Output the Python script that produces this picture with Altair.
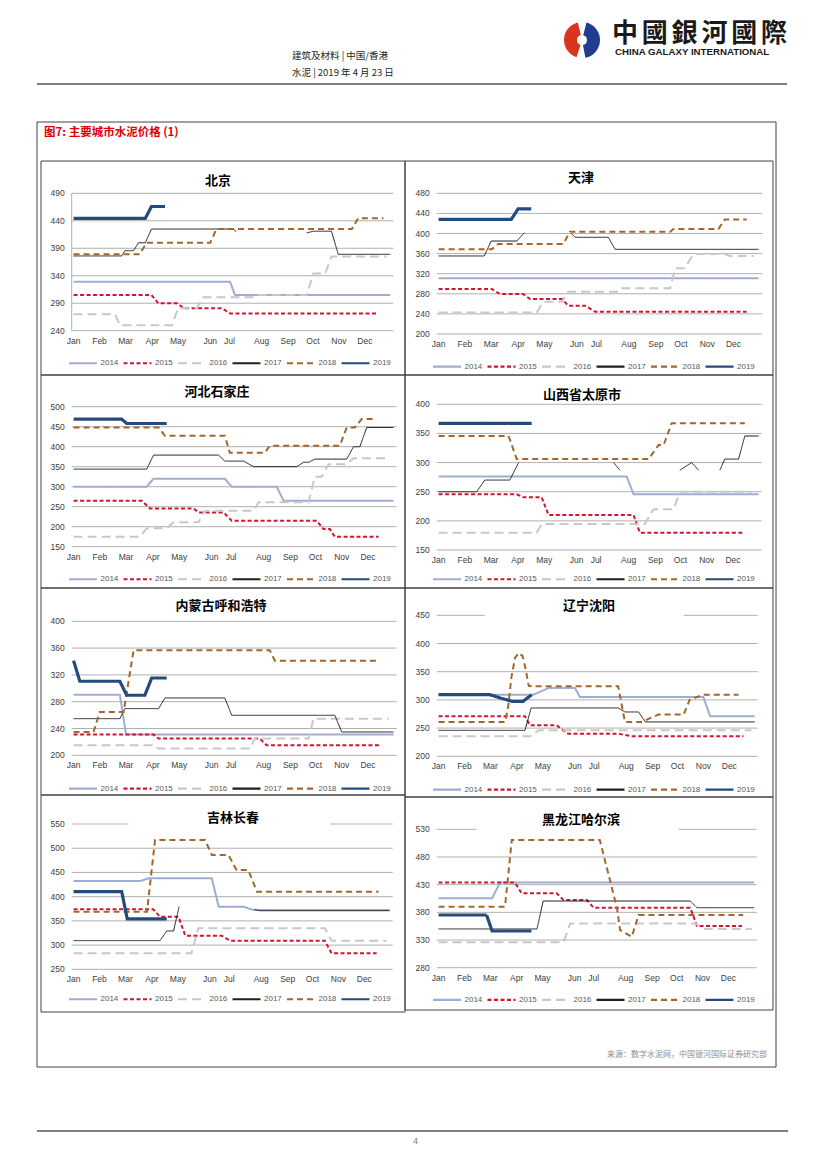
import altair as alt
import pandas as pd

FONT = "Liberation Sans"
CJK = "Noto Sans CJK SC"
O = 8  # page margin

YEARS = ["2014", "2015", "2016", "2017", "2018", "2019"]
COLORS = ["#9FADD4", "#D2152F", "#C8C8C8", "#1E1E1E", "#A4662C", "#244A7E"]
DASHES = [[1, 0], [4, 2.5], [9, 5], [1, 0], [6, 4], [1, 0]]
WIDTHS = [2, 2, 2, 1, 2, 3.2]

MONTHS = ["Jan", "Feb", "Mar", "Apr", "May", "Jun", "Jul", "Aug", "Sep", "Oct", "Nov", "Dec"]
MONTH_WEEK = [0.3, 4.5, 8.7, 13.0, 17.2, 22.4, 25.5, 30.7, 35.0, 39.0, 43.2, 47.4]

# (week, price) vertices per year; None = gap in the series
BEIJING = {
    "2014": [(0.3, 329), (25.6, 329), (26.4, 305), (51.5, 305)],
    "2015": [(0.3, 305), (12.9, 305), (14.0, 290), (17.0, 290), (18.1, 281), (24.3, 281), (25.6, 271.5), (49.3, 271.5)],
    "2016": [(0.3, 270), (7.0, 270), (7.8, 250), (16.2, 250), (17.2, 281), (20.2, 281), (21.3, 301), (29.1, 301), (29.6, 305), (38.0, 305), (39.1, 344), (41.0, 344), (42.0, 375), (50.9, 375)],
    "2017": [(0.3, 376), (8.1, 376), (8.6, 385.6), (10.0, 385.6), (10.8, 400), (11.9, 400), (12.9, 425), (26.1, 425), (26.6, 420), None, (38.0, 418), (39.1, 421), (42.0, 421), (43.1, 379), (51.5, 379)],
    "2018": [(0.3, 379), (11.0, 379), (12.1, 400), (22.4, 400), (23.4, 425), (45.3, 425), (46.3, 444.5), (50.4, 444.5)],
    "2019": [(0.3, 444.5), (11.9, 444.5), (12.9, 466), (15.1, 466)],
}
TIANJIN = {
    "2014": [(0.3, 311), (51.4, 311)],
    "2015": [(0.3, 289.6), (8.8, 289.6), (10.1, 279.6), (13.8, 279.6), (14.9, 269.7), (20.0, 269.7), (21.0, 256.4), (23.7, 256.4), (25.3, 244.5), (49.5, 244.5)],
    "2016": [(0.3, 243), (16.0, 243), (17.0, 264.4), (20.0, 264.4), (21.0, 284), (29.0, 284), (29.5, 291), (37.3, 291), (38.1, 330.7), (39.6, 330.7), (41.0, 359), (46.0, 359), (46.8, 355), (50.6, 355)],
    "2017": [(0.3, 355.3), (7.6, 355.3), (8.7, 385), (12.8, 385), (14.0, 401.7), None, (21.5, 400), (22.1, 392.4), (27.4, 392.4), (28.5, 368.5), (51.4, 368.5)],
    "2018": [(0.3, 368.5), (8.8, 368.5), (9.8, 379), (20.2, 379), (21.3, 403.7), (37.3, 403.7), (37.8, 409), (45.0, 409), (46.0, 428), (49.5, 428)],
    "2019": [(0.3, 428), (11.9, 428), (13.0, 449), (15.1, 449)],
}
HEBEI = {
    "2014": [(0.3, 300), (12.0, 300), (13.1, 320), (24.5, 320), (25.6, 300), (32.8, 300), (33.9, 265), (51.5, 265)],
    "2015": [(0.3, 265), (11.2, 265), (12.5, 245.8), (19.5, 245.8), (20.3, 235.8), (24.3, 235.8), (25.6, 215), (39.2, 215), (40.3, 194), (41.3, 194), (42.1, 175), (49.1, 175)],
    "2016": [(0.3, 175), (10.9, 175), (12.0, 196), (15.2, 196), (16.3, 211), (20.3, 211), (21.3, 240), (29.1, 240), (29.9, 261), (37.9, 261), (38.9, 325), (40.0, 325), (41.1, 356), (44.0, 356), (45.1, 371), (50.7, 371)],
    "2017": [(0.3, 344), (12.0, 344), (13.1, 379), (23.5, 379), (24.5, 364), (27.5, 364), (29.1, 350), (36.0, 350), (37.1, 361), (37.9, 361), (38.9, 369), (44.0, 369), (45.1, 400), (46.1, 400), (47.2, 448), (51.5, 448)],
    "2018": [(0.3, 448), (13.9, 448), (14.9, 427.5), (24.5, 427.5), (25.3, 385), (30.9, 385), (31.7, 402.5), (42.9, 402.5), (44.0, 448), (45.3, 448), (46.4, 469), (48.3, 469)],
    "2019": [(0.3, 469), (8.0, 469), (8.8, 458), (15.2, 458)],
}
SHANXI = {
    "2014": [(0.3, 276), (30.4, 276), (31.5, 245.5), (51.5, 245.5)],
    "2015": [(0.3, 245.5), (12.8, 245.5), (13.9, 240.4), (16.8, 240.4), (17.9, 210), (31.5, 210), (32.5, 179.7), (49.3, 179.7)],
    "2016": [(0.3, 179.7), (16.0, 179.7), (16.8, 194.6), (33.3, 194.6), (34.7, 220), (37.9, 220), (38.9, 250), (50.4, 250)],
    "2017": [(0.3, 250), (6.4, 250), (7.7, 270), (11.7, 270), (13.1, 300), None, (28.3, 300), (29.3, 287), None, (38.9, 287), (40.8, 300), (41.9, 287), None, (45.3, 287), (46.1, 306), (48.3, 306), (49.3, 345.6), (51.5, 345.6)],
    "2018": [(0.3, 345.6), (11.5, 345.6), (12.8, 306), (33.9, 306), (35.5, 330), (36.3, 330), (37.6, 367.4), (49.3, 367.4)],
    "2019": [(0.3, 367.4), (15.2, 367.4)],
}
HOHHOT = {
    "2014": [(0.3, 290.5), (7.7, 290.5), (8.7, 231), (51.5, 231)],
    "2015": [(0.3, 231), (13.1, 231), (13.9, 225), (30.1, 225), (31.2, 215), (49.3, 215)],
    "2016": [(0.3, 215), (13.1, 215), (13.9, 210), (28.5, 210), (29.3, 225), (37.9, 225), (38.7, 254.7), (50.7, 254.7)],
    "2017": [(0.3, 254.7), (7.7, 254.7), (8.5, 269.7), (13.9, 269.7), (14.9, 285.6), (24.5, 285.6), (25.6, 259.7), (42.1, 259.7), (43.2, 234.8), (51.5, 234.8)],
    "2018": [(0.3, 234.8), (3.5, 234.8), (4.5, 264.7), (8.3, 264.7), (9.9, 356.7), (31.7, 356.7), (32.5, 341.3), (49.3, 341.3)],
    "2019": [(0.3, 341.3), (1.3, 310.5), (7.7, 310.5), (8.8, 289.6), (11.7, 289.6), (12.8, 315.4), (15.2, 315.4)],
}
SHENYANG = {
    "2014": [(0.3, 309.3), (15.7, 309.3), (18.1, 321), (22.4, 321), (23.2, 305), (43.2, 305), (44.3, 271), (51.5, 271)],
    "2015": [(0.3, 271), (14.3, 271), (15.1, 255), (19.4, 255), (21.3, 240), (29.4, 240), (31.6, 235.5), (49.7, 235.5)],
    "2016": [(0.3, 235.5), (15.1, 235.5), (16.5, 246), (51.0, 246)],
    "2017": [(0.3, 246), (14.3, 246), (15.3, 285.7), (29.4, 285.7), (30.5, 278.6), (32.7, 278.6), (33.8, 260.9), (51.5, 260.9)],
    "2018": [(0.3, 260.9), (11.1, 260.9), (11.6, 290), (12.1, 340), (12.7, 375), (13.3, 383.2), (13.9, 378), (14.4, 355), (14.9, 325), (15.4, 324), (29.4, 324), (30.5, 260.9), (33.2, 260.9), (35.9, 273.9), (40.0, 273.9), (41.0, 300.5), (43.2, 309.3), (48.9, 309.3)],
    "2019": [(0.3, 309.3), (8.6, 309.3), (10.3, 303.4), (12.2, 297.5), (14.0, 297.5), (15.4, 309.3)],
}
CHANGCHUN = {
    "2014": [(0.3, 432.3), (11.1, 432.3), (12.5, 437.9), (22.7, 437.9), (23.8, 379.4), (27.8, 379.4), (29.4, 372.5), (51.5, 372.5)],
    "2015": [(0.3, 373.9), (13.2, 373.9), (14.3, 358.7), (17.3, 358.7), (18.4, 319.5), (24.3, 319.5), (25.7, 309.2), (41.0, 309.2), (42.1, 283), (49.4, 283)],
    "2016": [(0.3, 283), (19.4, 283), (20.5, 334.7), (41.0, 334.7), (42.1, 309.2), (51.0, 309.2)],
    "2017": [(0.3, 309.2), (14.3, 309.2), (15.4, 329.2), (16.5, 329.2), (17.4, 379.4), None, (29.6, 374), (30.4, 371), (51.5, 371)],
    "2018": [(0.3, 369), (12.2, 369), (13.5, 517), (21.6, 517), (22.7, 486), (25.4, 486), (26.7, 455), (28.6, 455), (30.0, 410.3), (49.7, 410.3)],
    "2019": [(0.3, 410.3), (8.1, 410.3), (9.0, 354), (15.4, 354)],
}
HARBIN = {
    "2014": [(0.3, 405.3), (9.0, 405.3), (10.3, 434), (51.6, 434)],
    "2015": [(0.3, 434), (12.7, 434), (13.8, 414.3), (19.5, 414.3), (20.6, 402.3), (24.4, 402.3), (25.5, 388.4), (41.2, 388.4), (42.3, 355.3), (49.6, 355.3)],
    "2016": [(0.3, 325.8), (20.6, 325.8), (21.7, 360), (42.0, 360), (43.6, 350), (51.2, 350)],
    "2017": [(0.3, 350), (16.3, 350), (17.3, 400.5), (41.2, 400.5), (42.3, 388.4), (51.6, 388.4)],
    "2018": [(0.3, 390.2), (11.1, 390.2), (12.2, 510.7), (26.5, 510.7), (27.6, 462.5), (29.3, 387.2), (29.8, 348), (31.7, 336), (32.8, 375.2), (49.8, 375.2)],
    "2019": [(0.3, 375.2), (8.1, 375.2), (9.0, 346.3), (15.4, 346.3)],
}

# layout (page pixels)
PANELS = [
    dict(title="北京", data=BEIJING, ticks=[240, 290, 340, 390, 440, 490], box=(41, 161, 405, 375),
         plot=(71.7, 393.3, 193.3, 330.7), title_at=(218, 181), legend_cy=361.7, gap=None, axis_line=True),
    dict(title="天津", data=TIANJIN, ticks=[200, 240, 280, 320, 360, 400, 440, 480], box=(405, 161, 773, 375),
         plot=(436.7, 762.3, 193.3, 334.0), title_at=(581, 178), legend_cy=365, gap=None, axis_line=False),
    dict(title="河北石家庄", data=HEBEI, ticks=[150, 200, 250, 300, 350, 400, 450, 500], box=(41, 375, 405, 588),
         plot=(71.7, 396.7, 406.7, 546.7), title_at=(217, 392), legend_cy=577.7, gap=None, axis_line=False),
    dict(title="山西省太原市", data=SHANXI, ticks=[150, 200, 250, 300, 350, 400], box=(405, 375, 773, 588),
         plot=(436.7, 761.7, 404.3, 550.0), title_at=(582, 395), legend_cy=577.7, gap=None, axis_line=False),
    dict(title="内蒙古呼和浩特", data=HOHHOT, ticks=[200, 240, 280, 320, 360, 400], box=(41, 588, 405, 795),
         plot=(71.7, 396.7, 621.3, 755.3), title_at=(221, 606), legend_cy=787, gap=None, axis_line=False),
    dict(title="辽宁沈阳", data=SHENYANG, ticks=[200, 250, 300, 350, 400, 450], box=(405, 588, 773, 797),
         plot=(436.7, 757.7, 615.3, 756.3), title_at=(589, 606), legend_cy=788, gap=(7.8, 40.0), axis_line=False),
    dict(title="吉林长春", data=CHANGCHUN, ticks=[250, 300, 350, 400, 450, 500, 550], box=(41, 795, 405, 1012),
         plot=(71.7, 392.7, 824.0, 969.3), title_at=(233, 818), legend_cy=997.7, gap=(9.2, 41.9), axis_line=False),
    dict(title="黑龙江哈尔滨", data=HARBIN, ticks=[280, 330, 380, 430, 480, 530], box=(405, 797, 773, 1010),
         plot=(436.7, 756.7, 829.3, 967.7), title_at=(581, 820), legend_cy=998.3, gap=(6.5, 39.3), axis_line=False),
]

WIDTH_OF = dict(zip(YEARS, WIDTHS))


def one():
    return alt.Data(values=[{"k": 0}])


def txt(s, x, y, size, color="#000000", bold=False, font=FONT, align="left"):
    return alt.Chart(one()).mark_text(
        text=s, fontSize=size, color=color, fontWeight=("bold" if bold else "normal"),
        font=font, align=align, baseline="middle"
    ).encode(x=alt.value(x - O), y=alt.value(y - O))


def hrule(x0, x1, y, color, w):
    return alt.Chart(one()).mark_rule(color=color, strokeWidth=w).encode(
        x=alt.value(x0 - O), x2=alt.value(x1 - O), y=alt.value(y - O))


def frame(x0, y0, x1, y1, color, w):
    return alt.Chart(one()).mark_rect(fillOpacity=0, stroke=color, strokeWidth=w).encode(
        x=alt.value(x0 - O), x2=alt.value(x1 - O), y=alt.value(y0 - O), y2=alt.value(y1 - O))


def arc(cx, cy, r0, r1, t0, t1, color):
    return alt.Chart(one()).mark_arc(innerRadius=r0, outerRadius=r1, theta=t0, theta2=t1, color=color).encode(
        x=alt.value(cx - O), y=alt.value(cy - O))


def panel(p):
    lo, hi = p["ticks"][0], p["ticks"][-1]
    px0, px1, pyt, pyb = p["plot"]
    xs = alt.Scale(domain=[0, 52], range=[px0 - O, px1 - O], nice=False, zero=False)
    ys = alt.Scale(domain=[lo, hi], range=[pyb - O, pyt - O], nice=False, zero=False)

    g = []
    for t in p["ticks"]:
        if p["gap"] and t == hi:
            g.append({"v": t, "a": 0, "b": p["gap"][0]})
            g.append({"v": t, "a": p["gap"][1], "b": 52})
        else:
            g.append({"v": t, "a": 0, "b": 52})
    grid = alt.Chart(pd.DataFrame(g)).mark_rule(color="#B0B0B0", strokeWidth=1).encode(
        x=alt.X("a:Q", scale=xs, axis=None), x2="b:Q", y=alt.Y("v:Q", scale=ys, axis=None))
    layers = [grid]
    if p["axis_line"]:
        layers.append(alt.Chart(pd.DataFrame({"a": [0], "lo": [lo], "hi": [hi]})).mark_rule(
            color="#B0B0B0", strokeWidth=1).encode(
            x=alt.X("a:Q", scale=xs, axis=None), y=alt.Y("lo:Q", scale=ys, axis=None), y2="hi:Q"))

    ylab = alt.Chart(pd.DataFrame({"v": p["ticks"], "a": [0] * len(p["ticks"]),
                                   "t": [str(t) for t in p["ticks"]]})).mark_text(
        align="right", baseline="middle", dx=-7, fontSize=8.5, color="#404040", font=FONT).encode(
        x=alt.X("a:Q", scale=xs, axis=None), y=alt.Y("v:Q", scale=ys, axis=None), text="t:N")
    xlab = alt.Chart(pd.DataFrame({"m": MONTHS, "w": MONTH_WEEK, "v": [lo] * 12})).mark_text(
        align="center", baseline="middle", dy=10, fontSize=8.5, color="#404040", font=FONT).encode(
        x=alt.X("w:Q", scale=xs, axis=None), y=alt.Y("v:Q", scale=ys, axis=None), text="m:N")
    layers += [ylab, xlab]

    rows = []
    for yr in YEARS:
        seg = 0
        for pt in p["data"][yr]:
            if pt is None:
                seg += 1
                continue
            rows.append({"week": pt[0], "price": pt[1], "year": yr, "seg": f"{yr}-{seg}",
                         "w": WIDTH_OF[yr], "i": len(rows)})
    df = pd.DataFrame(rows)
    bx0, by0, bx1, by1 = p["box"]
    lines = alt.Chart(df).mark_line().encode(
        x=alt.X("week:Q", scale=xs, axis=None),
        y=alt.Y("price:Q", scale=ys, axis=None),
        color=alt.Color("year:N", scale=alt.Scale(domain=YEARS, range=COLORS),
                        legend=alt.Legend(orient="none", legendX=bx0 + 26.5 - O, legendY=p["legend_cy"] - 14 - O,
                                          direction="horizontal", columns=6, title=None, padding=0,
                                          labelFont=FONT, labelFontSize=8, labelColor="#595959",
                                          symbolSize=784, symbolType="stroke", labelOffset=2,
                                          columnPadding=0.5, symbolStrokeWidth=2.2)),
        strokeDash=alt.StrokeDash("year:N", scale=alt.Scale(domain=YEARS, range=DASHES)),
        strokeWidth=alt.StrokeWidth("w:Q", scale=None),
        detail="seg:N",
        order="i:Q",
    )
    layers.append(lines)
    tx, ty = p["title_at"]
    layers.append(txt(p["title"], tx, ty, 13, "#000000", True, CJK, "center"))
    return alt.layer(*layers)


deco = [
    txt("建筑及材料 | 中国/香港", 292, 56, 9.5, "#231F20", False, CJK),
    txt("水泥 | 2019 年 4 月 23 日", 292, 73, 9.5, "#231F20", False, CJK),
    arc(582, 40, 5, 18, 3.45, 6.05, "#D9341E"),
    arc(582, 40, 5, 18, 0.25, 2.95, "#1F3E8F"),
]
for i, ch in enumerate("中國銀河國際"):
    deco.append(txt(ch, 612 + i * 29.8 + 13, 34, 26, "#1A1A1A", True, "Noto Sans CJK TC", "center"))
deco += [
    txt("CHINA GALAXY INTERNATIONAL", 615, 52, 9.7, "#1A1A1A", True, FONT),
    hrule(37, 787, 84, "#000000", 1.2),
    frame(37, 122, 776, 1067, "#404040", 1),
    txt("图7: 主要城市水泥价格 (1)", 44, 133, 11.5, "#E00000", True, CJK),
    txt("来源：数字水泥网，中国银河国际证券研究部", 767, 1055, 8, "#8C8C8C", False, CJK, "right"),
    hrule(37, 788, 1131, "#808080", 2),
    txt("4", 413, 1141, 9, "#808080", False, FONT),
]
for p in PANELS:
    deco.append(frame(*p["box"], "#404040", 1))

chart = alt.layer(*deco, *[panel(p) for p in PANELS]).resolve_scale(
    x="independent", y="independent", color="independent", strokeDash="independent"
).properties(
    width=811, height=1150, padding=0, autosize=alt.AutoSizeParams(type="none")
).configure_view(stroke=None)

chart.save("out.html", embed_options={"renderer": "svg", "actions": False})
